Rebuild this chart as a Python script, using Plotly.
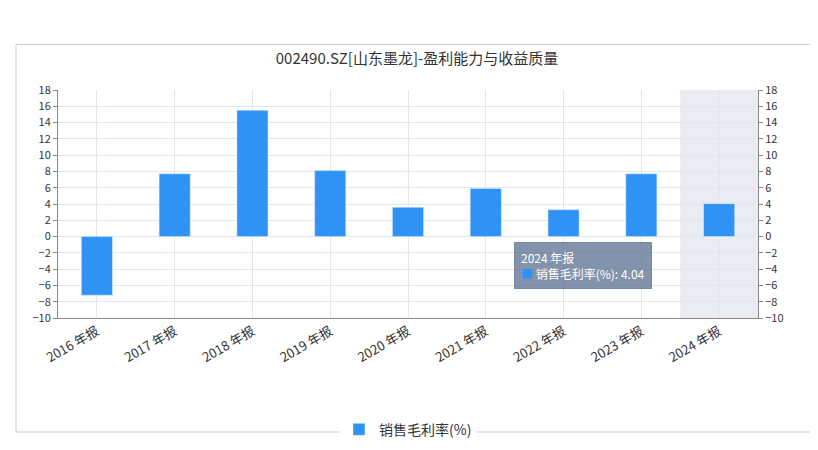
import plotly.graph_objects as go

# --- Data ---
years = ["2016 年报", "2017 年报", "2018 年报", "2019 年报", "2020 年报",
         "2021 年报", "2022 年报", "2023 年报", "2024 年报"]
gross_margin = [-7.2, 7.7, 15.5, 8.1, 3.6, 5.9, 3.3, 7.7, 4.04]
tick_vals = list(range(-10, 19, 2))

FONT = "Noto Sans CJK SC, Noto Sans, sans-serif"

fig = go.Figure()
fig.add_trace(go.Bar(x=years, y=gross_margin, name="销售毛利率(%)",
                     marker_color="#2e93f5", width=0.4))
# invisible trace to get the mirrored right axis
fig.add_trace(go.Scatter(x=years, y=gross_margin, yaxis="y2", mode="markers",
                         marker=dict(opacity=0), showlegend=False, hoverinfo="skip"))

fig.add_annotation(x=years[6], y=-3.5, xanchor="left", yanchor="middle", xshift=-50,
                   text="2024 年报<br><span style='color:#2e93f5'>■</span> 销售毛利率(%): 4.04",
                   showarrow=False, align="left", bgcolor="rgba(100,120,150,0.8)",
                   bordercolor="rgba(100,120,150,0.8)", borderpad=6,
                   font=dict(color="white", size=12, family=FONT))

axis_common = dict(range=[-10, 18], tickvals=tick_vals, showline=True, linecolor="#888",
                   tickfont=dict(size=11, color="#333"), ticks="outside", ticklen=4,
                   tickcolor="#888", zeroline=False)

fig.update_layout(
    width=818, height=450,
    title=dict(text="002490.SZ[山东墨龙]-盈利能力与收益质量", x=0.5, y=0.9,
               font=dict(size=15, color="#333", family=FONT)),
    font=dict(family=FONT),
    plot_bgcolor="white", paper_bgcolor="white",
    margin=dict(l=50, r=68, t=82, b=129),
    bargap=0.6,
    xaxis=dict(tickangle=-30, tickfont=dict(size=13, color="#333"), showline=True,
               linecolor="#888", showgrid=True, gridcolor="#e3e6ee"),
    yaxis=dict(**axis_common, showgrid=True, gridcolor="#e3e6ee"),
    yaxis2=dict(**axis_common, overlaying="y", side="right", showgrid=False),
    legend=dict(orientation="h", x=0.5, xanchor="center", y=-0.42, yanchor="top",
                font=dict(size=14, color="#333")),
)

# outer card border
fig.add_shape(type="rect", xref="paper", yref="paper", x0=-0.06, x1=1.08,
              y0=-0.5, y1=1.2, line=dict(color="#ccc", width=1),
              fillcolor="rgba(0,0,0,0)", layer="below")
# highlight band behind the hovered category
fig.add_vrect(x0=7.5, x1=8.5, fillcolor="#d9dde8", opacity=0.55, line_width=0, layer="below")

fig.write_html("out.html")
